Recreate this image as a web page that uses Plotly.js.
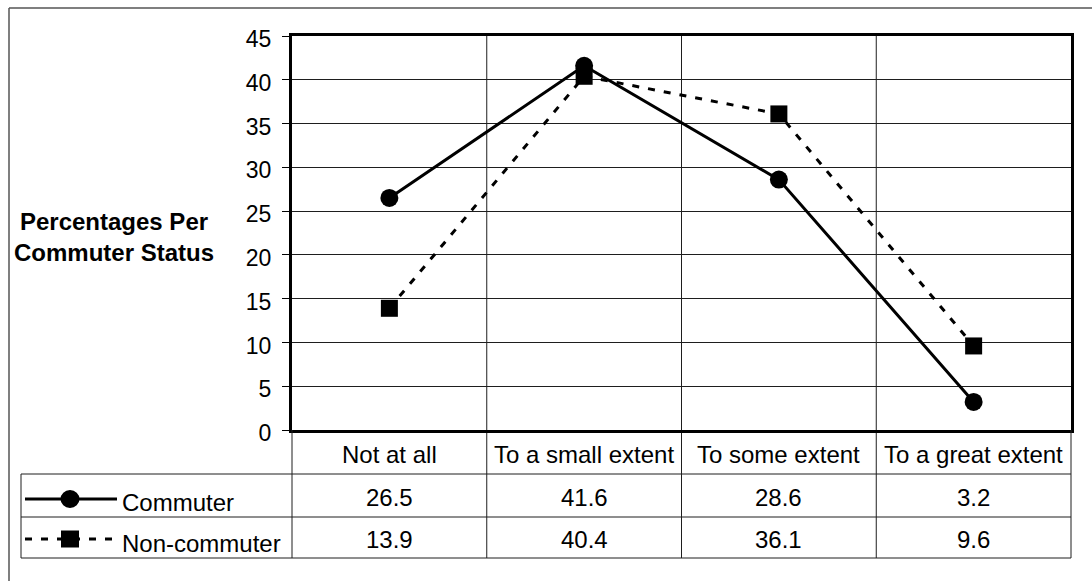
<!DOCTYPE html>
<html>
<head>
<meta charset="utf-8">
<script src="https://cdn.plot.ly/plotly-3.0.1.min.js"></script>
<style>
  html, body { margin: 0; padding: 0; background: #ffffff; }
  #chart { width: 1092px; height: 581px; }
</style>
</head>
<body>
<div id="chart"></div>
<script>
// Extent to which respondents were affected, by commuter status (percent)
const categories = ["Not at all", "To a small extent", "To some extent", "To a great extent"];
const commuter = [26.5, 41.6, 28.6, 3.2];
const nonCommuter = [13.9, 40.4, 36.1, 9.6];
const seriesNames = ["Commuter", "Non-commuter"];
const yTicks = [0, 5, 10, 15, 20, 25, 30, 35, 40, 45];

// Page geometry (pixels)
const W = 1092, H = 581;
const M = { l: 292, r: 21, t: 36, b: 151 };
const plotW = W - M.l - M.r, plotH = H - M.t - M.b;
const plotBottom = H - M.b;
// pixel -> paper helpers for the table under the plot
const px = p => (p - M.l) / plotW;
const py = p => (plotBottom - p) / plotH;

const FONT = "Liberation Sans, Arial, sans-serif";
const INK = "#000000";
const GRID = "#1e1e1e";

// Table rows (pixel rows below the plot)
const rowHeader = [plotBottom, 474];
const row1 = [474, 517];
const row2 = [517, 558];
const keyLeft = 21;

const traces = [
  {
    x: categories, y: commuter, name: seriesNames[0], type: "scatter", mode: "lines+markers",
    line: { color: INK, width: 3 },
    marker: { symbol: "circle", size: 18, color: INK },
    cliponaxis: false, showlegend: false
  },
  {
    x: categories, y: nonCommuter, name: seriesNames[1], type: "scatter", mode: "lines+markers",
    line: { color: INK, width: 3, dash: "7px,9px" },
    marker: { symbol: "square", size: 17, color: INK },
    cliponaxis: false, showlegend: false
  }
];

const shapes = [];
const thin = { color: GRID, width: 1 };

// outer chart frame (left and top edges)
shapes.push({ type: "line", xref: "paper", yref: "paper", x0: px(9), x1: px(W + 5), y0: py(8), y1: py(8), line: { color: "#555", width: 1.5 } });
shapes.push({ type: "line", xref: "paper", yref: "paper", x0: px(9), x1: px(9), y0: py(8), y1: py(H + 5), line: { color: "#555", width: 1.5 } });

// vertical category dividers, running through the plot and the table
for (let i = 0; i < categories.length - 1; i++) {
  shapes.push({ type: "line", xref: "x", yref: "paper", x0: i + 0.5, x1: i + 0.5, y0: py(row2[1]), y1: 1, line: thin, layer: "below" });
}
// table outer verticals under the plot edges
shapes.push({ type: "line", xref: "paper", yref: "paper", x0: 0, x1: 0, y0: py(row2[1]), y1: 0, line: thin });
shapes.push({ type: "line", xref: "paper", yref: "paper", x0: 1, x1: 1, y0: py(row2[1]), y1: 0, line: thin });
// table horizontals
[row1[0], row2[0], row2[1]].forEach(yp => {
  shapes.push({ type: "line", xref: "paper", yref: "paper", x0: px(keyLeft), x1: 1, y0: py(yp), y1: py(yp), line: thin });
});
// key column left edge
shapes.push({ type: "line", xref: "paper", yref: "paper", x0: px(keyLeft), x1: px(keyLeft), y0: py(row1[0]), y1: py(row2[1]), line: thin });

// legend keys inside the table
const keyY1 = 499, keyY2 = 539, keyX0 = 25, keyX1 = 117, keyMid = 70;
shapes.push({ type: "line", xref: "paper", yref: "paper", x0: px(keyX0), x1: px(keyX1), y0: py(keyY1), y1: py(keyY1), line: { color: INK, width: 3 } });
shapes.push({ type: "circle", xref: "paper", yref: "paper", xsizemode: "pixel", ysizemode: "pixel",
  xanchor: px(keyMid), yanchor: py(keyY1), x0: -9.5, x1: 9.5, y0: -9, y1: 9, fillcolor: INK, line: { width: 0 } });
shapes.push({ type: "line", xref: "paper", yref: "paper", x0: px(keyX0), x1: px(keyX1), y0: py(keyY2), y1: py(keyY2), line: { color: INK, width: 3, dash: "7px,9px" } });
shapes.push({ type: "rect", xref: "paper", yref: "paper", xsizemode: "pixel", ysizemode: "pixel",
  xanchor: px(keyMid), yanchor: py(keyY2), x0: -9, x1: 9, y0: -8.5, y1: 8.5, fillcolor: INK, line: { width: 0 } });

const annotations = [];
const cellFont = { family: FONT, size: 24, color: INK };
const mid = r => py((r[0] + r[1]) / 2 + 2);

categories.forEach((c, i) => {
  annotations.push({ xref: "x", yref: "paper", x: c, y: mid(rowHeader), text: c, showarrow: false, font: cellFont, xanchor: "center", yanchor: "middle" });
  annotations.push({ xref: "x", yref: "paper", x: c, y: mid(row1), text: commuter[i].toFixed(1), showarrow: false, font: cellFont, xanchor: "center", yanchor: "middle" });
  annotations.push({ xref: "x", yref: "paper", x: c, y: mid(row2), text: nonCommuter[i].toFixed(1), showarrow: false, font: cellFont, xanchor: "center", yanchor: "middle" });
});
annotations.push({ xref: "paper", yref: "paper", x: px(120), y: py(502), text: seriesNames[0], showarrow: false, font: cellFont, xanchor: "left", yanchor: "middle" });
annotations.push({ xref: "paper", yref: "paper", x: px(120), y: py(543), text: seriesNames[1], showarrow: false, font: cellFont, xanchor: "left", yanchor: "middle" });

// horizontal y-axis caption
annotations.push({ xref: "paper", yref: "paper", x: px(114), y: py(237), text: "<b>Percentages Per<br>Commuter Status</b>",
  showarrow: false, align: "center", xanchor: "center", yanchor: "middle",
  font: { family: FONT, size: 24, color: INK } });

const layout = {
  width: W, height: H,
  margin: M,
  paper_bgcolor: "#ffffff", plot_bgcolor: "#ffffff",
  showlegend: false,
  font: { family: FONT, color: INK },
  xaxis: {
    type: "category", range: [-0.5, 3.5], showticklabels: false, ticks: "",
    showgrid: false, zeroline: false, showline: true, mirror: true, linecolor: INK, linewidth: 3
  },
  yaxis: {
    range: [0, 45], tickvals: yTicks, ticktext: yTicks.map(String),
    showgrid: true, gridcolor: GRID, gridwidth: 1, zeroline: false,
    showline: true, mirror: true, linecolor: INK, linewidth: 3,
    ticks: "outside", ticklen: 7, tickwidth: 1, tickcolor: INK,
    ticklabelstandoff: 6, ticklabelshift: 3,
    tickfont: { family: FONT, size: 23, color: INK }
  },
  shapes: shapes,
  annotations: annotations
};

Plotly.newPlot("chart", traces, layout, { staticPlot: true, displayModeBar: false });
</script>
</body>
</html>
